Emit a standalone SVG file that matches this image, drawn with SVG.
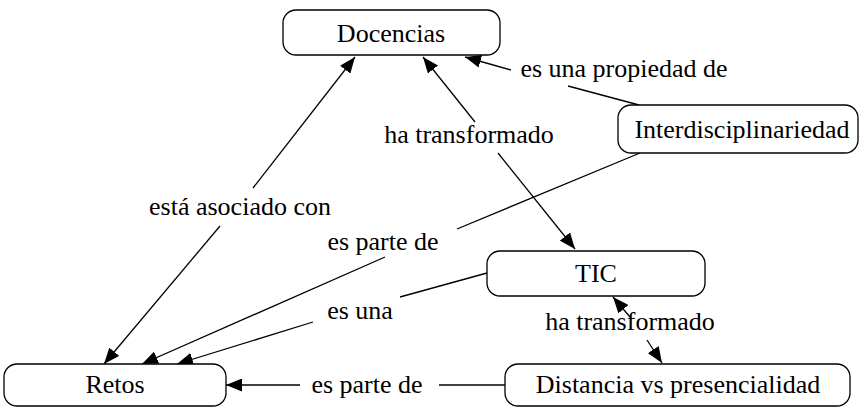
<svg xmlns="http://www.w3.org/2000/svg" width="860" height="408" viewBox="0 0 860 408">
<style>
  .box { fill: #fff; stroke: #000; stroke-width: 1.3; }
  .t { font-family: "Liberation Serif", "Times New Roman", serif; font-size: 26px; fill: #000; text-anchor: middle; }
  .c { stroke: #000; stroke-width: 1.3; fill: none; }
  .a { marker-end: url(#arr); }
</style>
<defs>
  <marker id="arr" markerUnits="userSpaceOnUse" markerWidth="17" markerHeight="13" refX="16" refY="6.5" orient="auto">
    <path d="M0,0 L16,6.5 L0,13 Z" fill="#000"/>
  </marker>
</defs>
<rect width="860" height="408" fill="#fff"/>
<g id="connectors">
  <line class="c" x1="639" y1="105" x2="568" y2="86"/>
  <line class="c a" x1="511" y1="70" x2="465" y2="57"/>
  <line class="c a" x1="475" y1="122" x2="423" y2="57"/>
  <line class="c a" x1="498" y1="153" x2="575" y2="249"/>
  <line class="c a" x1="253" y1="188" x2="355" y2="57"/>
  <line class="c a" x1="220" y1="226" x2="104" y2="364"/>
  <line class="c" x1="640" y1="153" x2="457" y2="229"/>
  <line class="c a" x1="385" y1="257" x2="142" y2="364"/>
  <line class="c" x1="487" y1="273" x2="400" y2="297"/>
  <line class="c a" x1="313" y1="322" x2="177" y2="364"/>
  <line class="c a" x1="630" y1="317" x2="613" y2="297"/>
  <line class="c a" x1="647" y1="340" x2="662" y2="363"/>
  <line class="c" x1="505" y1="385" x2="439" y2="385"/>
  <line class="c a" x1="300" y1="385" x2="226" y2="385"/>
</g>
<g id="labels">
  <text class="t" x="624" y="77">es una propiedad de</text>
  <text class="t" x="469" y="143">ha transformado</text>
  <text class="t" x="240" y="215">está asociado con</text>
  <text class="t" x="383" y="250">es parte de</text>
  <text class="t" x="360" y="319">es una</text>
  <text class="t" x="630" y="330">ha transformado</text>
  <text class="t" x="367" y="393">es parte de</text>
</g>
<g id="docencias">
  <rect class="box" x="283" y="10" width="217" height="45" rx="13"/>
  <text class="t" x="391" y="42">Docencias</text>
</g>
<g id="interdisciplinariedad">
  <rect class="box" x="618" y="105" width="240" height="48" rx="13"/>
  <text class="t" x="742" y="138">Interdisciplinariedad</text>
</g>
<g id="tic">
  <rect class="box" x="487" y="251" width="218" height="45" rx="13"/>
  <text class="t" x="596" y="282">TIC</text>
</g>
<g id="retos">
  <rect class="box" x="4" y="364" width="222" height="42" rx="13"/>
  <text class="t" x="115" y="393">Retos</text>
</g>
<g id="distancia">
  <rect class="box" x="505" y="364" width="345" height="42" rx="13"/>
  <text class="t" x="678" y="393">Distancia vs presencialidad</text>
</g>
</svg>
